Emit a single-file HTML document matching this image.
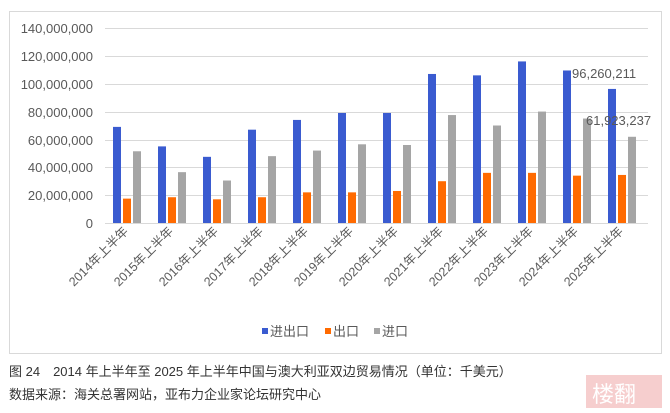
<!DOCTYPE html>
<html><head><meta charset="utf-8"><style>
body{margin:0;background:#fff;width:670px;height:408px;overflow:hidden;font-family:"Liberation Sans","Noto Sans CJK SC",sans-serif}
</style></head><body>
<svg width="670" height="408" xmlns="http://www.w3.org/2000/svg" font-family="Liberation Sans, Noto Sans CJK SC, sans-serif">
<rect x="9.5" y="11.5" width="652" height="342" fill="#fff" stroke="#d9d9d9"/>
<g stroke="#d9d9d9" stroke-width="1">
<line x1="105" x2="648" y1="223.5" y2="223.5"/>
<line x1="105" x2="648" y1="195.5" y2="195.5"/>
<line x1="105" x2="648" y1="167.5" y2="167.5"/>
<line x1="105" x2="648" y1="140.5" y2="140.5"/>
<line x1="105" x2="648" y1="112.5" y2="112.5"/>
<line x1="105" x2="648" y1="84.5" y2="84.5"/>
<line x1="105" x2="648" y1="56.5" y2="56.5"/>
<line x1="105" x2="648" y1="28.5" y2="28.5"/>
</g>
<g fill="#595959" font-size="13" text-anchor="end">
<text x="93" y="228">0</text>
<text x="93" y="200">20,000,000</text>
<text x="93" y="172">40,000,000</text>
<text x="93" y="145">60,000,000</text>
<text x="93" y="117">80,000,000</text>
<text x="93" y="89">100,000,000</text>
<text x="93" y="61">120,000,000</text>
<text x="93" y="33">140,000,000</text>
</g>
<g id="bars"></g>
<rect x="571" y="66" width="74" height="15" fill="#fff"/>
<g fill="#595959" font-size="13">
<text x="572" y="78">96,260,211</text>
<text x="586" y="125">61,923,237</text>
</g>
<g id="xl" fill="#595959" font-size="12.5"></g>
<g font-size="13" fill="#595959">
<rect x="262" y="328" width="6" height="6" fill="#3a5bd0"/><text x="270" y="336">进出口</text>
<rect x="325" y="328" width="6" height="6" fill="#ff6a00"/><text x="333" y="336">出口</text>
<rect x="374" y="328" width="6" height="6" fill="#a5a5a5"/><text x="382" y="336">进口</text>
</g>
<g font-size="13" fill="#333">
<text x="9" y="376">图 24　2014 年上半年至 2025 年上半年中国与澳大利亚双边贸易情况（单位：千美元）</text>
<text x="9" y="399">数据来源：海关总署网站，亚布力企业家论坛研究中心</text>
</g>
<rect x="586" y="375" width="76" height="40" fill="#f4c2c2" opacity="0.8"/>
<text x="592" y="402" font-size="22" fill="#fff">楼翻</text>
</svg>
<script>
var b=[69,55,47.5,67,74,79,79,107,106,116,109.5,96.26],o=[17.5,18.5,17,18.5,22,22,23,30,36,36,34,34.5],g=[51.5,36.5,30.5,48,52,56.5,56,77.5,70,80,75,61.9];
var s='',t='',k=195/140;
for(var i=0;i<12;i++){var x=113+45*i;
[[b,'#3a5bd0',0],[o,'#ff6a00',10],[g,'#a5a5a5',20]].forEach(function(a){var h=a[0][i]*k;s+='<rect x="'+(x+a[2])+'" y="'+(223-h)+'" width="8" height="'+h+'" fill="'+a[1]+'"/>';});
t+='<text transform="translate('+(x+16)+',232) rotate(-45)" text-anchor="end">'+(2014+i)+'年上半年</text>';}
document.getElementById('bars').innerHTML=s;document.getElementById('xl').innerHTML=t;
</script>
</body></html>
